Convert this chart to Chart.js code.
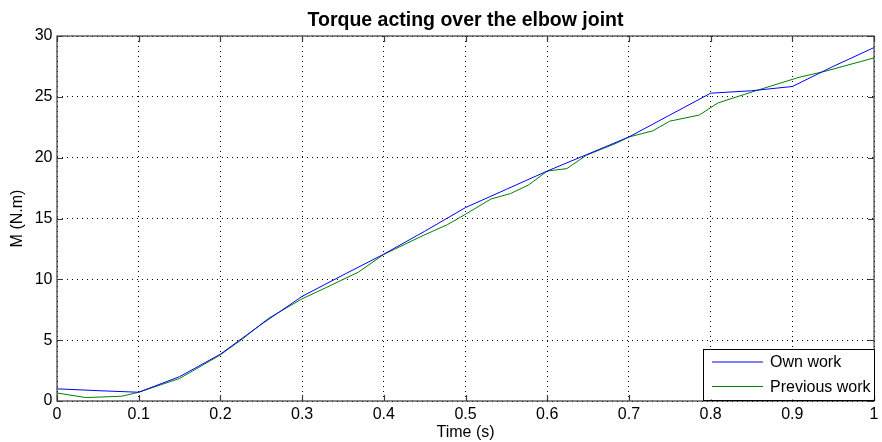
<!DOCTYPE html>
<html>
<head>
<meta charset="utf-8">
<script src="https://cdn.jsdelivr.net/npm/chart.js@4/dist/chart.umd.min.js"></script>
<style>
  html, body { margin: 0; padding: 0; background: #fff; }
  #wrap { width: 882px; height: 442px; }
</style>
</head>
<body>
<div id="wrap"><canvas id="torqueChart"></canvas></div>
<script>
// values
const ownTime = [0, 0.05, 0.1, 0.15, 0.2, 0.25, 0.3, 0.35, 0.4, 0.45, 0.5,
                 0.55, 0.6, 0.65, 0.7, 0.75, 0.8, 0.85, 0.9, 0.95, 1.0];
const ownTorque = [1.0, 0.85, 0.72, 2.0, 3.85, 6.3, 8.6, 10.35, 12.07, 13.95, 15.9,
                   17.4, 18.9, 20.3, 21.7, 23.5, 25.3, 25.5, 25.85, 27.5, 29.05];

const prevTime = [0, 0.035, 0.079, 0.1, 0.15, 0.199, 0.227, 0.259, 0.3, 0.335, 0.369,
                  0.4, 0.448, 0.478, 0.5, 0.531, 0.555, 0.577, 0.6, 0.624, 0.648,
                  0.685, 0.7, 0.729, 0.75, 0.786, 0.809, 0.86, 0.908, 0.94, 1.0];
const prevTorque = [0.66, 0.28, 0.39, 0.72, 1.85, 3.75, 5.1, 6.8, 8.4, 9.5, 10.6,
                    12.05, 13.6, 14.5, 15.35, 16.6, 17.05, 17.75, 18.9, 19.1, 20.2,
                    21.2, 21.7, 22.2, 23.0, 23.5, 24.5, 25.6, 26.6, 27.1, 28.2];

const seriesNames = ['Own work', 'Previous work'];
const xTicks = [0, 0.1, 0.2, 0.3, 0.4, 0.5, 0.6, 0.7, 0.8, 0.9, 1];
const yTicks = [0, 5, 10, 15, 20, 25, 30];
const chartTitle = 'Torque acting over the elbow joint';

const FONT = '"Liberation Sans", Arial, Helvetica, sans-serif';

function pairs(xs, ys) {
    return xs.map((v, i) => ({ x: v, y: ys[i] }));
}

// title over the plot area, box, inward tick marks and the legend, matlab style
const framePlugin = {
    id: 'frame',
    afterDraw(chart) {
        const { ctx, chartArea: a, scales } = chart;
        const sx = scales.x, sy = scales.y;
        ctx.save();

        ctx.fillStyle = '#000';
        ctx.font = 'bold 19.5px ' + FONT;
        ctx.textAlign = 'center';
        ctx.textBaseline = 'alphabetic';
        ctx.fillText(chartTitle, (a.left + a.right) / 2, 25.5);

        ctx.strokeStyle = '#3a3a3a';
        ctx.lineWidth = 1.2;
        ctx.strokeRect(a.left, a.top, a.right - a.left, a.bottom - a.top);

        ctx.beginPath();
        xTicks.forEach(v => {
            const px = Math.round(sx.getPixelForValue(v)) + 0.5;
            ctx.moveTo(px, a.bottom); ctx.lineTo(px, a.bottom - 6);
            ctx.moveTo(px, a.top); ctx.lineTo(px, a.top + 6);
        });
        yTicks.forEach(v => {
            const py = Math.round(sy.getPixelForValue(v)) + 0.5;
            ctx.moveTo(a.left, py); ctx.lineTo(a.left + 6, py);
            ctx.moveTo(a.right, py); ctx.lineTo(a.right - 6, py);
        });
        ctx.stroke();

        // legend in the lower right corner
        const boxW = 171, boxH = 51;
        const bx = a.right - boxW, by = a.bottom - boxH - 1.5;
        ctx.fillStyle = '#fff';
        ctx.fillRect(bx, by, boxW, boxH);
        ctx.strokeStyle = '#000';
        ctx.lineWidth = 1;
        ctx.strokeRect(Math.round(bx) + 0.5, Math.round(by) + 0.5, boxW, boxH);

        ctx.font = '16px ' + FONT;
        ctx.textBaseline = 'middle';
        ctx.textAlign = 'left';
        chart.data.datasets.forEach((ds, i) => {
            const ly = by + 13.5 + i * 24.5;
            ctx.strokeStyle = ds.borderColor;
            ctx.beginPath();
            ctx.moveTo(bx + 9, ly); ctx.lineTo(bx + 60, ly);
            ctx.stroke();
            ctx.fillStyle = '#000';
            ctx.fillText(ds.label, bx + 67, ly + 1);
        });
        ctx.restore();
    }
};

const ctx = document.getElementById('torqueChart').getContext('2d');
new Chart(ctx, {
    type: 'line',
    data: {
        datasets: [
            {
                label: seriesNames[0],
                data: pairs(ownTime, ownTorque),
                borderColor: '#0000ff',
                borderWidth: 1,
                pointRadius: 0,
                tension: 0
            },
            {
                label: seriesNames[1],
                data: pairs(prevTime, prevTorque),
                borderColor: '#008000',
                borderWidth: 1,
                pointRadius: 0,
                tension: 0
            }
        ]
    },
    options: {
        responsive: true,
        maintainAspectRatio: false,
        animation: false,
        layout: { padding: { top: 36, left: 0, right: 3, bottom: 0 } },
        plugins: {
            legend: { display: false },
            tooltip: { enabled: false },
            title: { display: false }
        },
        scales: {
            x: {
                type: 'linear',
                min: 0,
                max: 1,
                afterBuildTicks: s => { s.ticks = xTicks.map(v => ({ value: v })); },
                afterFit: s => { s.height = 41; },
                ticks: {
                    color: '#000',
                    padding: 3.5,
                    maxRotation: 0,
                    autoSkip: false,
                    font: { family: FONT, size: 16 },
                    callback: v => String(v)
                },
                grid: {
                    color: '#000',
                    lineWidth: 1,
                    drawTicks: false
                },
                border: { display: false, dash: [1, 4] },
                title: {
                    display: true,
                    text: 'Time (s)',
                    color: '#000',
                    font: { family: FONT, size: 16, lineHeight: 1.2 },
                    padding: { top: 0, bottom: 0 }
                }
            },
            y: {
                min: 0,
                max: 30,
                afterBuildTicks: s => { s.ticks = yTicks.map(v => ({ value: v })); },
                afterFit: s => { s.width = 57; },
                ticks: {
                    color: '#000',
                    padding: 4.5,
                    autoSkip: false,
                    font: { family: FONT, size: 16 },
                    callback: v => String(v)
                },
                grid: {
                    color: '#000',
                    lineWidth: 1,
                    drawTicks: false
                },
                border: { display: false, dash: [1, 4] },
                title: {
                    display: true,
                    text: 'M (N.m)',
                    color: '#000',
                    font: { family: FONT, size: 16, lineHeight: 1.2 },
                    padding: { top: 8, bottom: 0 }
                }
            }
        }
    },
    plugins: [framePlugin]
});
</script>
</body>
</html>
